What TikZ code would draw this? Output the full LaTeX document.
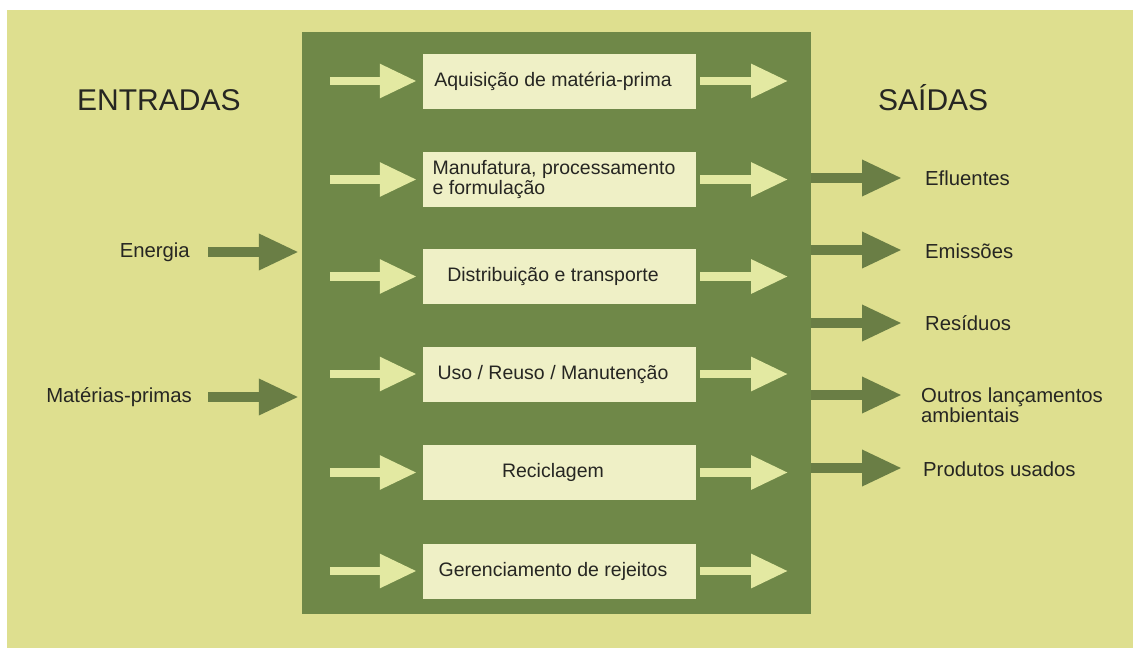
\documentclass[tikz,border=0pt]{standalone}
\usepackage{fontspec}
\setmainfont{Liberation Sans}
\usetikzlibrary{arrows.meta}
\definecolor{bgyellow}{RGB}{222,223,143}
\definecolor{stagegreen}{RGB}{111,136,72}
\definecolor{darkarrow}{RGB}{106,126,69}
\definecolor{cream}{RGB}{239,240,198}
\definecolor{lightarrow}{RGB}{227,233,162}
\definecolor{txt}{RGB}{38,38,34}
\begin{document}
\begin{tikzpicture}[x=1pt,y=-1pt,
  procbox/.style={fill=cream, draw=none, minimum width=273pt, minimum height=55pt, inner sep=0pt},
  proctext/.style={font=\fontsize{19.5}{19.5}\selectfont, text=txt, align=left, inner sep=0pt},
  sidelabel/.style={font=\fontsize{20.3}{20}\selectfont, text=txt, align=left, inner sep=0pt},
  titletext/.style={font=\fontsize{30}{36}\selectfont, text=txt, inner sep=0pt},
  inarrow/.style={draw=lightarrow, line width=8.5pt, -{Triangle[length=37pt,width=32pt]}},
  outarrow/.style={draw=darkarrow, line width=9.5pt, -{Triangle[length=40pt,width=34pt]}}]
\useasboundingbox (0,0) rectangle (1133,648);
\fill[white] (0,0) rectangle (1133,648);
\fill[bgyellow] (7,10) rectangle (1133,648);

% central stage block
\node[fill=stagegreen, draw=none, minimum width=509pt, minimum height=582pt, inner sep=0pt] (stage) at (556.5,323) {};

% titles
\node[titletext, anchor=base west] (entradas) at (77,110) {ENTRADAS};
\node[titletext, anchor=base west] (saidas) at (878,110) {SAÍDAS};

% process boxes
\node[procbox] (b1) at (559.5,81) {};
\node[procbox] (b2) at (559.5,179.5) {};
\node[procbox] (b3) at (559.5,276.5) {};
\node[procbox] (b4) at (559.5,374) {};
\node[procbox] (b5) at (559.5,472.5) {};
\node[procbox] (b6) at (559.5,571) {};

\node[proctext] (t1) at ([xshift=-6.5pt]b1.center) {Aquisição de matéria-prima};
\node[proctext] (t2) at ([xshift=-5.5pt]b2.center) {Manufatura, processamento\\e formulação};
\node[proctext] (t3) at ([xshift=-6.5pt]b3.center) {Distribuição e transporte};
\node[proctext] (t4) at ([xshift=-6.5pt]b4.center) {Uso / Reuso / Manutenção};
\node[proctext] (t5) at ([xshift=-6.5pt]b5.center) {Reciclagem};
\node[proctext] (t6) at ([xshift=-6.5pt]b6.center) {Gerenciamento de rejeitos};

% inner arrows
\foreach \i in {1,...,6}{
  \coordinate (li\i) at ([xshift=-93pt]b\i.west);
  \coordinate (ri\i) at ([xshift=92pt]b\i.east);
  \draw[inarrow, shorten >=6pt] (li\i) -- (b\i.west);
  \draw[inarrow, shorten <=4pt] (b\i.east) -- (ri\i);
}

% inputs
\node[sidelabel, anchor=base east] (energia) at (190,257) {Energia};
\node[sidelabel, anchor=base east] (materias) at (192,402) {Matérias-primas};
\coordinate (ein) at (208,252);
\coordinate (min) at (208,397);
\draw[outarrow, shorten >=3pt] (ein) -- (ein -| stage.west);
\draw[outarrow, shorten >=3pt] (min) -- (min -| stage.west);

% outputs
\node[sidelabel, anchor=base west] (eflu) at (925,185) {Efluentes};
\node[sidelabel, anchor=base west] (emis) at (925,258) {Emissões};
\node[sidelabel, anchor=base west] (resi) at (925,330) {Resíduos};
\node[sidelabel, anchor=base west] (outr) at (921,422) {Outros lançamentos\\ambientais};
\node[sidelabel, anchor=base west] (prod) at (923,476) {Produtos usados};
\coordinate (o1) at (902,178);
\coordinate (o2) at (902,250);
\coordinate (o3) at (902,323);
\coordinate (o4) at (902,395);
\coordinate (o5) at (902,468);
\foreach \i in {1,...,5}{
  \draw[outarrow] (o\i -| stage.east) -- (o\i);
}
\end{tikzpicture}
\end{document}
